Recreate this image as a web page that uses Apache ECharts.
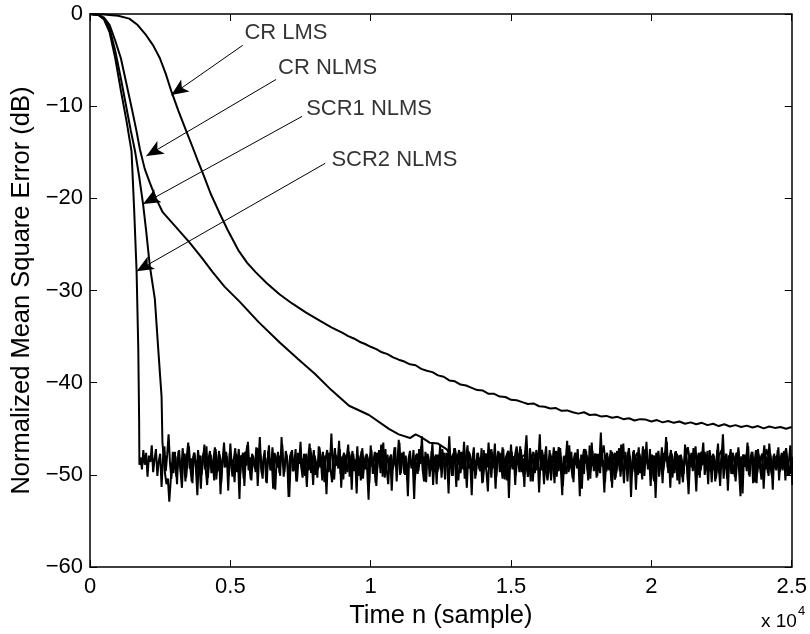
<!DOCTYPE html>
<html><head><meta charset="utf-8">
<script src="https://cdn.jsdelivr.net/npm/echarts@6.0.0/dist/echarts.min.js"></script>
<style>html,body{margin:0;padding:0;background:#fff}#c{width:810px;height:634px}</style>
</head><body><div id="c"></div>
<script>
// ---------- tick labels ----------
const xTickValues = [0, 5000, 10000, 15000, 20000, 25000];
const xTickLabels = ['0', '0.5', '1', '1.5', '2', '2.5'];
const yTickValues = [-60, -50, -40, -30, -20, -10, 0];
const yTickLabels = ['\u221260', '\u221250', '\u221240', '\u221230', '\u221220', '\u221210', '0'];

// ---------- CR LMS ----------
const crLmsN = [0,500,1000,1400,1700,2000,2250,2490,2700,2900,3150,3430,3650,3850,4050,4300,4600,4900,5300,5600,5900,6300,6750,7200,7700,8200,8600];
const crLmsDb = [0,-0.05,-0.2,-0.5,-1.2,-2.3,-3.4,-4.8,-6.5,-8.4,-10.5,-12.7,-14.4,-16.0,-17.5,-19.5,-21.5,-23.4,-25.7,-27.0,-28.0,-29.2,-30.4,-31.4,-32.4,-33.3,-34.0];
const crLmsTailStart = 9000, crLmsTailStep = 200;
const crLmsTailDb = [
  -34.6,-34.95,-35.2,-35.55,-35.8,-36.1,-36.35,-36.7,-36.9,-37.25,
  -37.5,-37.7,-38.0,-38.1,-38.5,-38.7,-38.85,-39.2,-39.35,-39.75,
  -39.85,-40.2,-40.3,-40.55,-40.8,-40.85,-41.2,-41.2,-41.5,-41.55,
  -41.85,-41.9,-42.1,-42.3,-42.25,-42.55,-42.6,-42.8,-42.75,-43.05,
  -43.0,-43.2,-43.35,-43.2,-43.5,-43.45,-43.65,-43.6,-43.8,-43.7,
  -43.95,-43.85,-44.1,-43.95,-44.0,-44.2,-44.05,-44.3,-44.15,-44.35,
  -44.2,-44.45,-44.3,-44.5,-44.35,-44.6,-44.45,-44.7,-44.5,-44.75,
  -44.6,-44.8,-44.65,-44.85,-44.7,-44.95,-44.75,-44.9,-44.8,-45.0,
  -44.8];

// ---------- CR NLMS ----------
const crNlmsN = [0,300,500,700,900,1100,1300,1500,1650,1780,1950,2130,2350,2590,3000,3550,4000,4370,4800,5330,6000,6750,7400,8000,8600,9230,9940,10650,11000,11400,11600,11800,12100,12400,12700];
const crNlmsDb = [0,-0.1,-0.4,-1.2,-2.9,-4.8,-7.6,-10.4,-12.6,-14.7,-16.8,-18.3,-20.0,-21.5,-22.9,-24.8,-26.5,-28.0,-29.6,-31.2,-33.4,-35.6,-37.4,-39.0,-40.8,-42.5,-43.5,-45.0,-45.6,-46.0,-45.6,-45.9,-46.5,-46.6,-47.2];
const crNlmsTailStart = 12800, crNlmsTailStep = 100;
const crNlmsTailDb = [
  -47.6,-48.3,-47.1,-48.9,-47.8,-49.4,-48.0,-47.5,-48.7,-49.6,
  -47.9,-48.4,-50.1,-47.7,-48.8,-47.2,-49.3,-48.5,-47.6,-50.4,
  -48.2,-47.4,-49.1,-48.6,-46.9,-49.7,-48.0,-47.8,-50.2,-48.3,
  -47.5,-49.5,-48.1,-47.3,-48.9,-50.6,-47.9,-48.4,-49.2,-47.0,
  -48.7,-49.9,-47.6,-48.2,-50.3,-47.8,-48.6,-49.4,-47.2,-48.0,
  -50.0,-48.5,-47.7,-49.0,-48.3,-46.8,-49.6,-48.1,-47.5,-50.5,
  -48.4,-47.9,-49.3,-48.8,-47.1,-50.1,-48.2,-47.6,-49.8,-48.6,
  -47.3,-49.2,-48.0,-50.7,-47.8,-48.5,-49.5,-47.4,-48.9,-48.1,
  -49.7,-47.7,-48.3,-50.2,-48.6,-47.0,-49.1,-48.4,-47.6,-50.0,
  -48.8,-47.5,-49.6,-48.2,-47.9,-50.4,-48.0,-47.3,-49.4,-48.7,
  -47.8,-49.9,-48.1,-47.4,-50.3,-48.6,-47.7,-49.0,-48.3,-50.8,
  -47.6,-48.9,-49.5,-47.2,-48.4,-50.1,-48.2,-47.9,-49.3,-48.5,
  -47.1,-50.0,-48.7,-47.8,-49.6,-48.1,-47.5,-49.8,-48.4,-48.0];

// ---------- SCR1 NLMS ----------
const scr1N = [0,300,500,700,900,1100,1300,1450,1600,1750,1890,2000,2130,2310,2430,2550,2580];
const scr1Db = [0,-0.1,-0.5,-1.6,-4.0,-7.0,-10.2,-12.6,-14.8,-17.6,-20.6,-23.5,-27.3,-30.9,-36.3,-41.5,-46.4];
const scr1NoiseStart = 2625, scr1NoiseStep = 50;
const scr1NoiseDb = [
  -48.2,-49.9,-51.0,-50.4,-52.9,-50.6,-48.7,-49.8,-47.5,-50.2,
  -48.9,-47.3,-49.6,-51.4,-48.0,-47.7,-50.3,-48.5,-46.9,-49.2,
  -50.7,-48.1,-47.6,-49.4,-52.2,-48.3,-47.9,-50.0,-48.6,-46.7,
  -49.5,-51.1,-48.2,-47.4,-49.8,-48.7,-50.6,-47.2,-48.9,-49.6,
  -47.8,-50.9,-48.4,-46.5,-49.1,-48.0,-51.7,-47.6,-48.8,-50.2,
  -48.3,-47.1,-49.7,-48.5,-52.6,-47.9,-48.2,-50.4,-47.5,-49.0,
  -46.4,-48.9,-50.5,-47.7,-48.6,-49.3,-47.0,-51.2,-48.1,-47.8,
  -49.9,-48.4,-47.3,-50.8,-48.7,-46.8,-49.5,-48.2,-51.5,-47.6,
  -48.5,-49.2,-47.9,-50.1,-45.9,-48.8,-49.7,-47.4,-48.3,-52.4,
  -48.0,-47.5,-49.6,-48.9,-47.2,-50.7,-48.4,-47.8,-49.1,-50.3,
  -47.7,-48.6,-51.3,-48.1,-46.6,-49.8,-48.5,-47.3,-50.0,-48.8,
  -49.4,-47.0,-48.3,-50.6,-47.9,-48.7,-52.1,-48.2,-47.6,-49.5,
  -50.8,-48.4,-47.1,-49.0,-48.6,-46.3,-49.9,-48.0,-50.5,-47.8,
  -48.9,-49.7,-47.5,-48.2,-51.6,-47.7,-48.8,-49.3,-46.9,-50.1,
  -48.3,-47.4,-50.4,-48.6,-47.9,-49.5,-52.7,-48.1,-47.3,-49.9,
  -48.7,-50.9,-47.6,-48.0,-49.2,-46.7,-50.2,-48.5,-47.2,-49.6,
  -51.0,-48.2,-47.8,-49.4,-48.9,-47.0,-50.7,-48.3,-46.5,-49.8,
  -48.1,-47.5,-50.0,-48.7,-52.3,-47.9,-48.4,-49.1,-47.3,-50.5,
  -48.6,-49.9,-47.2,-48.8,-45.8,-49.3,-48.0,-50.8,-47.7,-48.5,
  -49.6,-47.4,-51.1,-48.2,-47.8,-49.7,-48.9,-46.8,-50.3,-48.1,
  -47.6,-49.0,-48.4,-52.0,-47.9,-48.6,-50.1,-47.1,-48.7,-49.5,
  -50.6,-48.3,-47.5,-49.2,-46.4,-48.8,-51.4,-48.0,-47.7,-49.8,
  -48.2,-47.0,-50.4,-48.9,-47.6,-49.4,-48.1,-50.9,-47.3,-48.5,
  -49.7,-51.8,-48.0,-47.4,-49.1,-48.6,-46.6,-50.2,-48.3,-47.9,
  -48.7,-49.6,-47.2,-50.5,-48.4,-47.8,-52.5,-48.1,-47.5,-49.3,
  -48.0,-50.0,-47.6,-48.9,-46.9,-49.7,-48.2,-51.3,-47.4,-48.6,
  -49.9,-47.1,-48.5,-50.7,-48.8,-47.7,-49.2,-48.3,-45.6,-49.5,
  -48.4,-51.0,-47.9,-48.1,-49.8,-47.3,-50.6,-48.7,-47.0,-49.1,
  -50.2,-48.6,-47.5,-49.4,-52.2,-48.0,-47.8,-49.9,-48.5,-46.8,
  -49.3,-48.2,-50.8,-47.6,-48.9,-47.2,-49.7,-48.4,-51.5,-47.9,
  -48.8,-47.4,-49.5,-48.1,-50.4,-46.5,-49.0,-48.6,-47.7,-50.1,
  -48.3,-49.8,-47.1,-48.7,-51.9,-48.0,-47.6,-49.3,-48.5,-50.7,
  -47.8,-48.9,-50.3,-47.4,-48.2,-49.6,-46.7,-48.8,-50.9,-47.5,
  -49.1,-48.4,-47.9,-52.4,-48.6,-47.3,-49.7,-48.1,-50.0,-47.7,
  -48.5,-50.5,-47.2,-48.9,-46.4,-49.4,-48.3,-51.2,-47.8,-48.7,
  -49.9,-47.6,-48.1,-50.2,-48.8,-47.0,-49.5,-48.4,-45.9,-49.2,
  -48.0,-51.4,-47.7,-48.6,-49.8,-47.4,-50.6,-48.2,-47.9,-49.3,
  -50.8,-48.5,-47.1,-49.0,-52.1,-48.7,-47.6,-49.6,-48.3,-46.9,
  -49.7,-48.0,-50.3,-47.5,-48.9,-47.8,-49.4,-48.6,-51.0,-47.3,
  -48.4,-49.5,-47.9,-50.7,-48.2,-46.6,-49.9,-48.8,-47.4,-50.4,
  -48.1,-47.7,-51.7,-48.5,-47.2,-49.3,-48.9,-50.2,-47.6,-48.0,
  -49.6,-52.3,-48.3,-47.8,-49.1,-48.6,-46.5,-50.0,-48.4,-47.5,
  -50.9,-48.7,-47.3,-49.8,-48.1,-47.9,-50.5,-48.2,-46.8,-49.4,
  -48.6,-50.1,-47.6,-48.4,-51.6,-47.7,-49.2,-48.9,-47.0,-49.7,
  -48.3,-49.5,-47.4,-50.6,-48.0,-47.8,-49.9,-48.5,-51.1,-48.2];

// ---------- SCR2 NLMS ----------
const scr2N = [0,300,500,700,900,1100,1300,1480,1570,1660,1720,1750,1760];
const scr2Db = [0,-0.1,-0.6,-2.0,-4.8,-8.3,-11.6,-14.9,-21.0,-27.9,-36.3,-44.0,-48.9];
const scr2NoiseStart = 1800, scr2NoiseStep = 50;
const scr2NoiseDb = [
  -48.1,-49.4,-47.3,-48.9,-47.6,-50.2,-47.9,-48.6,-46.8,-49.7,
  -48.3,-47.2,-50.1,-48.5,-47.7,-51.3,-48.2,-46.9,-49.6,-47.8,
  -45.6,-48.7,-50.4,-47.5,-49.1,-48.0,-51.0,-47.4,-48.8,-49.9,
  -47.1,-48.6,-50.7,-47.9,-46.5,-49.3,-48.2,-50.9,-47.6,-48.4,
  -49.8,-47.3,-48.9,-51.5,-48.1,-47.6,-49.4,-46.9,-50.3,-48.5,
  -47.8,-49.6,-48.2,-47.0,-50.5,-48.7,-47.4,-52.1,-48.6,-47.9,
  -49.2,-47.5,-48.8,-50.1,-46.6,-49.0,-48.3,-50.8,-47.7,-48.9,
  -47.2,-49.9,-48.4,-47.6,-51.2,-48.0,-46.8,-49.5,-48.1,-50.6,
  -47.9,-48.5,-49.7,-47.1,-48.6,-45.9,-49.3,-50.4,-47.8,-48.2,
  -50.9,-47.4,-48.7,-49.5,-47.0,-48.9,-51.6,-48.3,-47.5,-49.8,
  -48.1,-46.7,-50.2,-48.6,-47.8,-49.1,-52.4,-48.5,-47.3,-49.6,
  -48.0,-50.7,-47.6,-48.8,-46.4,-49.4,-48.2,-50.1,-47.7,-48.9,
  -49.5,-47.1,-48.3,-51.1,-47.9,-48.6,-50.3,-46.9,-49.2,-48.4,
  -47.5,-50.8,-48.1,-47.3,-49.7,-48.7,-45.5,-49.0,-50.5,-47.8,
  -48.6,-49.3,-47.2,-51.4,-48.2,-47.6,-49.9,-48.0,-46.7,-50.2,
  -48.8,-47.4,-49.6,-48.3,-52.0,-47.9,-48.5,-50.6,-47.1,-48.9,
  -49.4,-47.7,-48.2,-50.9,-46.8,-49.1,-48.4,-47.5,-51.2,-48.6,
  -47.3,-49.8,-48.0,-46.5,-50.3,-48.7,-47.8,-49.5,-48.1,-51.7,
  -48.4,-47.0,-49.2,-48.8,-46.2,-50.0,-47.6,-48.5,-49.9,-47.9,
  -50.6,-48.2,-47.4,-49.3,-48.9,-52.6,-48.0,-47.7,-49.6,-48.3,
  -46.9,-49.4,-50.7,-47.5,-48.6,-47.9,-50.2,-48.4,-46.6,-49.7,
  -48.1,-51.0,-47.8,-48.7,-49.5,-47.2,-48.3,-50.5,-47.6,-49.0,
  -45.8,-48.9,-50.1,-47.7,-48.4,-51.3,-48.0,-47.3,-49.8,-48.6,
  -47.5,-50.4,-48.2,-46.8,-49.3,-48.8,-52.2,-47.9,-48.5,-50.0,
  -47.6,-48.9,-49.6,-47.1,-50.8,-48.3,-47.7,-49.2,-46.5,-48.7,
  -50.3,-47.8,-48.4,-51.5,-48.1,-47.4,-49.7,-48.6,-47.0,-49.9,
  -48.2,-50.6,-47.5,-48.8,-46.7,-49.4,-48.0,-51.1,-47.9,-48.5,
  -49.3,-47.2,-48.7,-50.2,-47.6,-45.7,-49.0,-48.4,-50.7,-47.8,
  -48.6,-49.8,-47.3,-48.1,-51.9,-48.5,-47.6,-49.5,-48.2,-46.9,
  -50.1,-48.3,-47.7,-49.2,-48.8,-50.9,-47.4,-48.0,-49.6,-47.1,
  -48.9,-51.2,-47.9,-48.4,-46.3,-49.7,-48.6,-47.5,-50.4,-48.1,
  -47.6,-49.3,-48.2,-52.3,-47.8,-48.7,-49.9,-47.2,-48.5,-50.6,
  -46.8,-48.9,-47.4,-49.6,-48.1,-50.3,-47.7,-48.6,-45.4,-49.1,
  -48.4,-50.8,-47.9,-48.3,-49.5,-47.3,-51.4,-48.0,-47.6,-49.8,
  -48.7,-47.1,-50.2,-48.5,-46.6,-49.4,-48.2,-50.7,-47.8,-48.9,
  -49.6,-47.5,-48.1,-51.6,-48.4,-47.0,-49.7,-48.8,-46.9,-50.1,
  -47.7,-48.6,-49.3,-47.2,-50.5,-48.3,-47.9,-52.5,-48.7,-47.4,
  -49.0,-48.2,-50.9,-47.6,-48.5,-46.4,-49.8,-48.1,-47.3,-50.3,
  -48.8,-47.5,-49.4,-48.0,-51.0,-47.8,-48.6,-49.9,-46.7,-48.3,
  -50.6,-47.9,-48.4,-49.2,-47.1,-48.9,-51.8,-48.2,-47.6,-49.5,
  -48.0,-46.5,-50.0,-48.7,-47.4,-49.6,-48.3,-50.8,-47.7,-48.5,
  -49.7,-47.3,-48.9,-51.2,-48.1,-45.6,-49.1,-48.6,-50.4,-47.9,
  -48.4,-49.9,-47.6,-48.2,-50.7,-48.8,-47.0,-49.4,-48.0,-52.0,
  -47.8,-48.5,-49.6,-46.9,-50.2,-48.3,-47.5,-49.0,-48.7,-50.9,
  -47.2,-49.3,-48.1,-47.7,-51.5,-48.6,-48.0,-49.8,-46.6,-48.4,
  -50.3,-47.9,-48.8,-49.5,-47.3,-50.6,-48.2,-47.6,-49.2,-48.9,
  -47.4,-50.0,-48.5,-46.8,-49.7,-48.1,-51.3,-47.8,-48.6,-49.4];

// ---------- annotations (data units) ----------
const annoLabels = ['CR LMS', 'CR NLMS', 'SCR1 NLMS', 'SCR2 NLMS'];
const annoTextN  = [5500, 6700, 7700, 8600];
const annoTextDb = [-2.1, -5.9, -10.3, -15.8];
const annoTailN  = [5440, 6630, 7560, 8380];
const annoTailDb = [-3.4, -7.1, -11.1, -16.2];
const annoTipN   = [2900, 2010, 1890, 1660];
const annoTipDb  = [-8.8, -15.4, -20.6, -27.9];

// ---------- build ----------
function zip(a, b) { return a.map((v, i) => [v, b[i]]); }
function grid(start, step, vals) { return vals.map((v, i) => [start + i * step, v]); }

const FONT = '"Liberation Sans", Arial, Helvetica, sans-serif';
const lineStyle = { color: '#000', width: 2 };
const baseSeries = { type: 'line', showSymbol: false, symbol: 'none', lineStyle, silent: true, clip: true, z: 3 };

const chart = echarts.init(document.getElementById('c'), null, { renderer: 'canvas' });
const axisCommon = {
  type: 'value',
  axisLine: { show: true, onZero: false, lineStyle: { color: '#000', width: 1.5 } },
  axisTick: { show: true, inside: true, length: 7, lineStyle: { color: '#000', width: 1 } },
  splitLine: { show: false }
};
chart.setOption({
  animation: false,
  backgroundColor: '#fff',
  grid: { left: 90, right: 16, top: 14, bottom: 65, containLabel: false },
  xAxis: [
    Object.assign({}, axisCommon, {
      position: 'bottom', min: 0, max: 25000, interval: 5000,
      axisLabel: { color: '#000', fontSize: 22, fontFamily: FONT, margin: 9,
        formatter: v => xTickLabels[xTickValues.indexOf(v)] },
      name: 'Time n (sample)', nameLocation: 'middle', nameGap: 31,
      nameTextStyle: { color: '#000', fontSize: 25.5, fontFamily: FONT }
    }),
    Object.assign({}, axisCommon, { position: 'top', min: 0, max: 25000, interval: 5000, axisLabel: { show: false } })
  ],
  yAxis: [
    Object.assign({}, axisCommon, {
      position: 'left', min: -60, max: 0, interval: 10,
      axisLabel: { color: '#000', fontSize: 22, fontFamily: FONT, margin: 7,
        formatter: v => yTickLabels[yTickValues.indexOf(v)] },
      name: 'Normalized Mean Square Error (dB)', nameLocation: 'middle', nameGap: 53, nameRotate: 90,
      nameTextStyle: { color: '#000', fontSize: 25.5, fontFamily: FONT }
    }),
    Object.assign({}, axisCommon, { position: 'right', min: -60, max: 0, interval: 10, axisLabel: { show: false } })
  ],
  graphic: [
    { type: 'text', left: 761, top: 612, style: { text: 'x 10', fill: '#000', font: '19px ' + FONT } },
    { type: 'text', left: 798, top: 605, style: { text: '4', fill: '#000', font: '13px ' + FONT } }
  ],
  series: [
    Object.assign({}, baseSeries, { name: 'CR LMS', data: zip(crLmsN, crLmsDb).concat(grid(crLmsTailStart, crLmsTailStep, crLmsTailDb)) }),
    Object.assign({}, baseSeries, { name: 'CR NLMS', data: zip(crNlmsN, crNlmsDb).concat(grid(crNlmsTailStart, crNlmsTailStep, crNlmsTailDb)) }),
    Object.assign({}, baseSeries, { name: 'SCR1 NLMS', data: zip(scr1N, scr1Db).concat(grid(scr1NoiseStart, scr1NoiseStep, scr1NoiseDb)) }),
    Object.assign({}, baseSeries, { name: 'SCR2 NLMS', data: zip(scr2N, scr2Db).concat(grid(scr2NoiseStart, scr2NoiseStep, scr2NoiseDb)) }),
    {
      type: 'scatter', name: 'annotations', silent: true, symbolSize: 0, z: 5,
      data: zip(annoTextN, annoTextDb),
      label: { show: true, position: 'right', distance: 0, color: '#000', fontSize: 22, fontFamily: FONT,
        formatter: p => annoLabels[p.dataIndex] },
      markLine: {
        silent: true, animation: false,
        symbol: ['none', 'arrow'], symbolSize: [11, 17],
        lineStyle: { color: '#000', width: 1, type: 'solid' },
        itemStyle: { color: '#000' },
        label: { show: false },
        emphasis: { disabled: true },
        data: annoTipN.map((_, i) => [
          { coord: [annoTailN[i], annoTailDb[i]] },
          { coord: [annoTipN[i], annoTipDb[i]] }
        ])
      }
    }
  ]
});
</script>
</body></html>
